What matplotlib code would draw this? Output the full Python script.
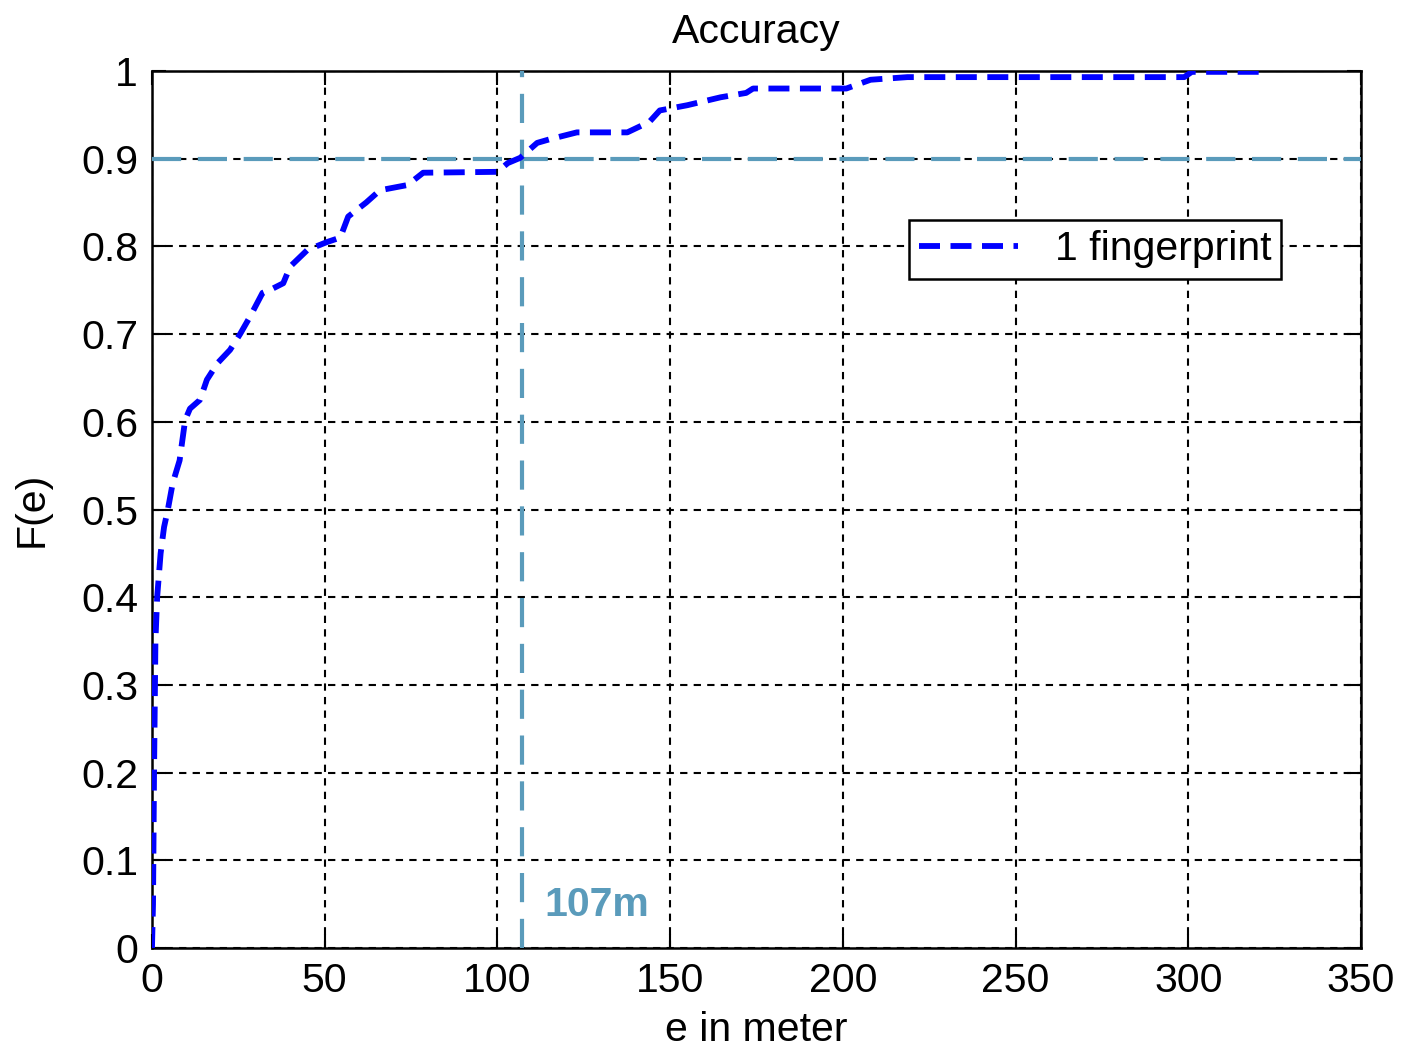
import numpy as np
import matplotlib
matplotlib.use("Agg")
import matplotlib.pyplot as plt

# error values (m) and cumulative distribution
err = [0, 0.3, 0.6, 1.0, 1.5, 2.5, 3.5, 4.6, 6.0, 8.0, 9.6, 11, 13.9, 15.9, 19, 22.6,
       25.5, 28.4, 32, 35, 38, 40, 45, 50.7, 54.5, 56.8, 62, 66, 74, 78.5, 100, 103,
       106.6, 111.5, 115, 123, 137.6, 144, 147, 155, 164.6, 172, 174, 201, 208, 218.7,
       298.8, 301, 321.6]
cdf = [0, 0.05, 0.2, 0.35, 0.4, 0.45, 0.48, 0.5, 0.53, 0.556, 0.602, 0.615, 0.625, 0.648,
       0.667, 0.682, 0.70, 0.72, 0.747, 0.752, 0.758, 0.777, 0.796, 0.805, 0.81, 0.834,
       0.85, 0.864, 0.87, 0.884, 0.885, 0.895, 0.901, 0.918, 0.922, 0.93, 0.93, 0.942,
       0.955, 0.961, 0.97, 0.975, 0.98, 0.98, 0.99, 0.993, 0.993, 0.999, 0.999]
err90 = 107
level90 = 0.9

xticks = [0, 50, 100, 150, 200, 250, 300, 350]
yticks = [0, 0.1, 0.2, 0.3, 0.4, 0.5, 0.6, 0.7, 0.8, 0.9, 1]
ytick_labels = ["0", "0.1", "0.2", "0.3", "0.4", "0.5", "0.6", "0.7", "0.8", "0.9", "1"]

plt.rcParams['font.family'] = ['Liberation Sans', 'DejaVu Sans']
fs = 29.5
ref_col = '#5a9bbb'

fig = plt.figure(figsize=(14.02, 10.5), dpi=100)
ax = fig.add_axes([0.1084, 0.0971, 0.8624, 0.8353])

ax.plot(err, cdf, color='#0000ff', linewidth=4.2, linestyle=(0, (3.6, 1.8)),
        label='1 fingerprint', zorder=4)
ax.axhline(level90, color=ref_col, linewidth=3, linestyle=(0, (7, 4)), zorder=3)
ax.axvline(err90, color=ref_col, linewidth=3, linestyle=(0, (7, 4)), zorder=3)
ax.text(113.5, 0.049, f'{err90}m', color=ref_col, fontsize=fs, fontweight='bold',
        va='center', ha='left')

ax.set_xlim(0, 350)
ax.set_ylim(0, 1)
ax.set_xticks(xticks)
ax.set_yticks(yticks)
ax.set_yticklabels(ytick_labels)
ax.tick_params(direction='in', length=10, width=1.5, labelsize=fs, pad=10,
               top=True, right=True)
ax.grid(True, color='black', linestyle=(0, (3.5, 3)), linewidth=1.5)
for s in ax.spines.values():
    s.set_linewidth(1.8)

ax.set_title('Accuracy', fontsize=fs, pad=20)
ax.set_xlabel('e in meter', fontsize=fs, labelpad=8)
ax.set_ylabel('F(e)', fontsize=fs, labelpad=22)

leg = ax.legend(loc='upper right', bbox_to_anchor=(0.934, 0.830), fontsize=fs,
                frameon=True, fancybox=False, edgecolor='black', framealpha=1,
                handlelength=2.4, borderpad=0.25, handletextpad=0.9, borderaxespad=0)
leg.get_frame().set_linewidth(1.8)

fig.savefig('out.png', dpi=100, facecolor='white')
